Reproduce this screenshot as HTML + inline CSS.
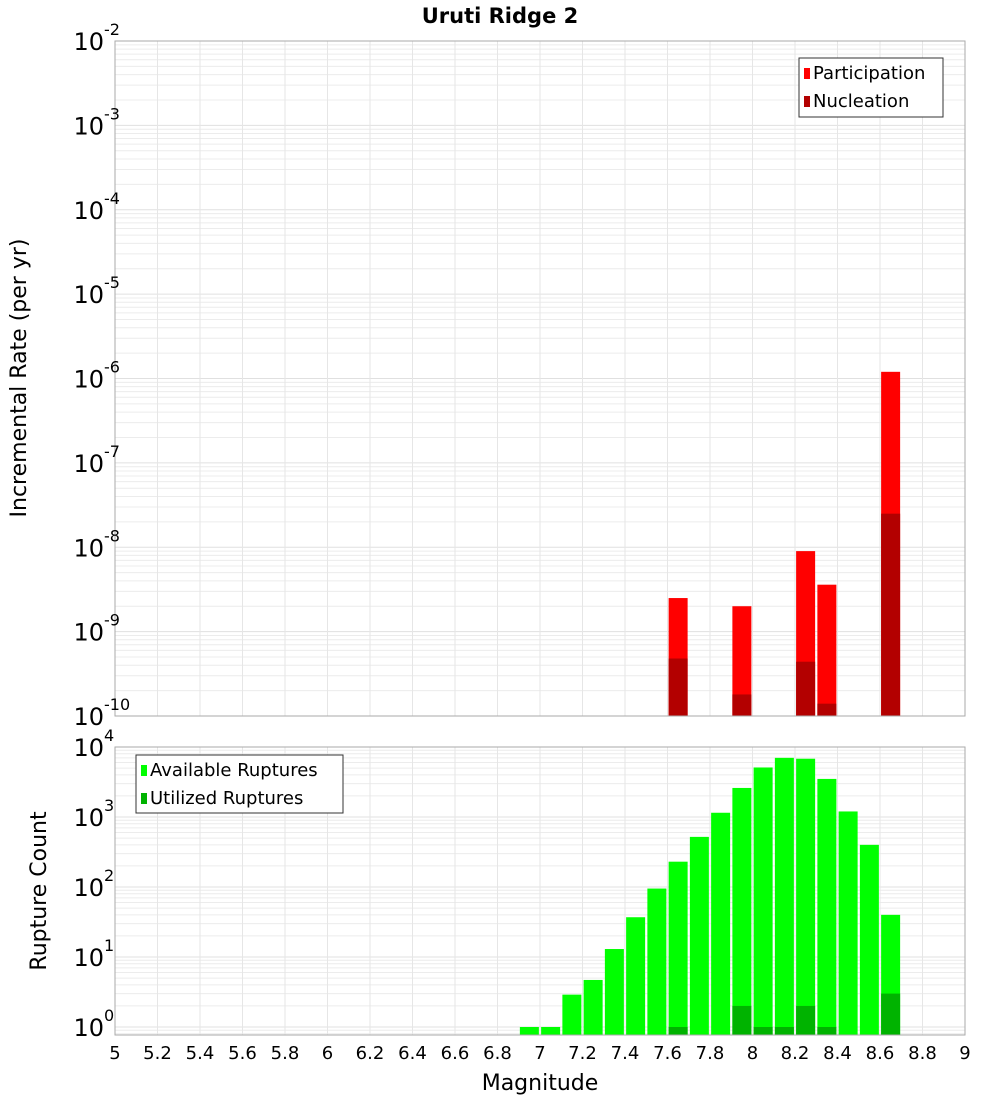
<!DOCTYPE html>
<html><head><meta charset="utf-8"><style>
body{margin:0;background:#fff;font-family:"Liberation Sans","DejaVu Sans",sans-serif}
svg text{font-family:"DejaVu Sans","Liberation Sans",sans-serif}
</style></head><body>
<svg id="c" width="1000" height="1100" xmlns="http://www.w3.org/2000/svg">
<text x="500" y="23" text-anchor="middle" font-size="21" font-weight="bold">Uruti Ridge 2</text>
<text transform="translate(26,378) rotate(-90)" text-anchor="middle" font-size="22">Incremental Rate (per yr)</text>
<text transform="translate(46,891) rotate(-90)" text-anchor="middle" font-size="22">Rupture Count</text>
<text x="540" y="1090" text-anchor="middle" font-size="22">Magnitude</text>
</svg>
<script>
const mags=[6.95,7.05,7.15,7.25,7.35,7.45,7.55,7.65,7.75,7.85,7.95,8.05,8.15,8.25,8.35,8.45,8.55,8.65];
const available=[1,1,2.9,4.7,13,37,95,230,520,1150,2600,5100,7000,6800,3500,1200,400,40];
const utilizedMags=[7.65,7.95,8.05,8.15,8.25,8.35,8.65];
const utilized=[1,2,1,1,2,1,3];
const rateMags=[7.65,7.95,8.25,8.35,8.65];
const participation=[2.5e-9,2e-9,9e-9,3.6e-9,1.2e-6];
const nucleation=[4.8e-10,1.8e-10,4.4e-10,1.4e-10,2.5e-8];
const xTicks=[5,5.2,5.4,5.6,5.8,6,6.2,6.4,6.6,6.8,7,7.2,7.4,7.6,7.8,8,8.2,8.4,8.6,8.8,9];
const topExps=[-10,-9,-8,-7,-6,-5,-4,-3,-2];
const botExps=[0,1,2,3,4];

const svg=document.getElementById('c');const NS='http://www.w3.org/2000/svg';
function mk(tag,attrs,parent){const e=document.createElementNS(NS,tag);for(const k in attrs)e.setAttribute(k,attrs[k]);(parent||svg).appendChild(e);return e;}
const X0=115,X1=965;
const x=m=>X0+(m-5)/4*(X1-X0);
const T0=41,T1=716;
const yT=v=>T1-(Math.log10(v)+10)/8*(T1-T0);
const B0=747,B1=1035,BD=70,BZ=1027;
const yB=v=>BZ-Math.log10(v)*BD;
const bw=19;

function panel(top,bot,yf,lo,hi,name){
  const g=mk('g',{});
  
  
  for(let e=lo;e<=hi;e++)for(let k=1;k<10;k++){const v=k*Math.pow(10,e);const yy=yf(v);if(yy<top||yy>bot)continue;mk('line',{x1:X0,x2:X1,y1:yy,y2:yy,stroke:k==1?'#e0e0e0':'#ececec','stroke-width':1},g);}
  xTicks.forEach(t=>{mk('line',{x1:x(t),x2:x(t),y1:top,y2:bot,stroke:'#e6e6e6','stroke-width':1},g);});
}
panel(T0,T1,yT,-10,-2,'top');
panel(B0,B1,yB,-1,4,'bottom');

for(let i=0;i<rateMags.length;i++){
  const r=mk('rect',{x:x(rateMags[i])-bw/2,y:yT(participation[i]),width:bw,height:T1-yT(participation[i]),fill:'#ff0000'});
  
  
  const n=mk('rect',{x:x(rateMags[i])-bw/2,y:yT(nucleation[i]),width:bw,height:T1-yT(nucleation[i]),fill:'#b30000'});
  
  
}
for(let i=0;i<mags.length;i++){
  const r=mk('rect',{x:x(mags[i])-bw/2,y:yB(available[i]),width:bw,height:B1-yB(available[i]),fill:'#00ff00'});
  
  
}
for(let i=0;i<utilizedMags.length;i++){
  const r=mk('rect',{x:x(utilizedMags[i])-bw/2,y:yB(utilized[i]),width:bw,height:B1-yB(utilized[i]),fill:'#00b300'});
  
  
}
const f1=mk('rect',{x:X0,y:T0,width:X1-X0,height:T1-T0,fill:'none',stroke:'#aaa'});


const f2=mk('rect',{x:X0,y:B0,width:X1-X0,height:B1-B0,fill:'none',stroke:'#aaa'});



function ylab(yy,e,name){
  const t=mk('text',{x:104,y:yy+9,'text-anchor':'end','font-size':24});
  
  
  t.textContent='10';
  const s=mk('text',{x:104,y:yy-6,'font-size':16});
  
  
  s.textContent=String(e);
}
topExps.forEach(e=>ylab(yT(Math.pow(10,e)),e,'top-y-tick-label'));
botExps.forEach(e=>ylab(yB(Math.pow(10,e)),e,'bottom-y-tick-label'));
xTicks.forEach(t=>{
  const l=mk('text',{x:x(t),y:1059,'text-anchor':'middle','font-size':18});
  
  
  l.textContent=String(t);
});

function legend(bx,by,w,h,items,name){
  const g=mk('g',{});
  
  
  mk('rect',{x:bx,y:by,width:w,height:h,fill:'#fff',stroke:'#333'},g);
  items.forEach((it,i)=>{
    mk('rect',{x:bx+5,y:by+10+i*28,width:6,height:11,fill:it[1]},g);
    const t=mk('text',{x:bx+14,y:by+21+i*28,'font-size':18},g);
    t.textContent=it[0];
  });
}
legend(799,58,144,59,[['Participation','#ff0000'],['Nucleation','#b30000']],'top-legend');
legend(136,755,207,58,[['Available Ruptures','#00ff00'],['Utilized Ruptures','#00b300']],'bottom-legend');
</script>
</body></html>
